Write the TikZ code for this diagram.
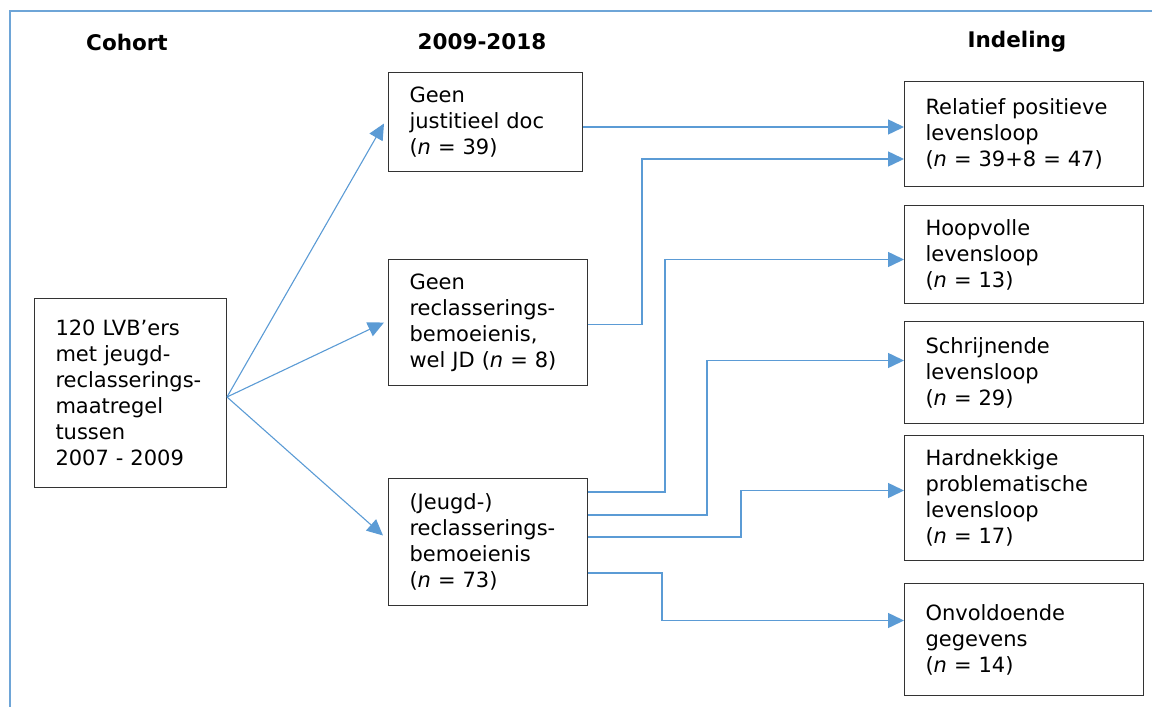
\documentclass[tikz,border=0pt]{standalone}
\usepackage{fontspec}
\setmainfont{DejaVu Sans}
\usepackage{xcolor}
\usepackage{tikz}
\usetikzlibrary{positioning,calc,arrows.meta}

\definecolor{lijnblauw}{RGB}{91,155,213}
\definecolor{kaderblauw}{RGB}{110,165,215}

\tikzset{
    vak/.style={draw=black!80, line width=1pt, rectangle, align=left,
        inner xsep=21pt, inner ysep=0pt, anchor=north west,
        font=\fontsize{21}{26}\selectfont},
    kop/.style={font=\fontsize{21.5}{24}\selectfont\bfseries},
    pijl/.style={draw=lijnblauw, line width=1.5pt,
        -{Triangle[length=16pt,width=15pt]}}
}

\newcommand{\nn}{\textit{n}}

\begin{document}
\begin{tikzpicture}[x=1pt,y=-1pt]
    \useasboundingbox (0,0) rectangle (1152,707);
    % Frame
    \draw [kaderblauw, line width=2pt] (10,707) -- (10,11) -- (1152,11);

    % Headers
    \node [kop] (hcoh) at (127,42) {Cohort};
    \node [kop] (hjaar) at (482,42) {2009-2018};
    \node [kop] (hind) at (1017,42) {Indeling};

    % Cohort
    \node [vak, text width=150pt, minimum height=189pt] (coh) at (34,298)
        {120 LVB’ers\\met jeugd-\\reclasserings-\\maatregel\\tussen\\2007 - 2009};

    % 2009-2018
    \node [vak, text width=152pt, minimum height=99pt] (geen) at (388,72)
        {Geen\\justitieel doc\\(\nn{} = 39)};
    \node [vak, text width=157pt, minimum height=126pt] (wel) at (388,259)
        {Geen\\reclasserings-\\bemoeienis,\\wel JD (\nn{} = 8)};
    \node [vak, text width=157pt, minimum height=127pt] (rec) at (388,478)
        {(Jeugd-)\\reclasserings-\\bemoeienis\\(\nn{} = 73)};

    % Indeling
    \node [vak, text width=197pt, minimum height=105pt] (pos) at (904,81)
        {Relatief positieve\\levensloop\\(\nn{} = 39+8 = 47)};
    \node [vak, text width=197pt, minimum height=98pt] (hoop) at (904,205)
        {Hoopvolle\\levensloop\\(\nn{} = 13)};
    \node [vak, text width=197pt, minimum height=102pt] (schrij) at (904,321)
        {Schrijnende\\levensloop\\(\nn{} = 29)};
    \node [vak, text width=197pt, minimum height=125pt] (hard) at (904,435)
        {Hardnekkige\\problematische\\levensloop\\(\nn{} = 17)};
    \node [vak, text width=197pt, minimum height=112pt] (onv) at (904,583)
        {Onvoldoende\\gegevens\\(\nn{} = 14)};

    % Cohort -> 2009-2018
    \draw [pijl, line width=1.1pt] ([yshift=-4pt]coh.east) -- ([xshift=-4pt,yshift=-1.5pt]geen.west);
    \draw [pijl, line width=1.1pt] ([yshift=-4pt]coh.east) -- ([xshift=-4pt]wel.west);
    \draw [pijl, line width=1.1pt] ([yshift=-4pt]coh.east) -- ([xshift=-5pt,yshift=6.5pt]rec.west);

    % 2009-2018 -> Indeling
    \draw [pijl] ([yshift=-5pt]geen.east) -- ++(158,0) |- ([yshift=7pt]pos.west);
    \draw [pijl] ([yshift=-2pt]wel.east) -- ++(54,0) |- ([yshift=-25pt]pos.west);
    \draw [pijl] ([yshift=-14pt]rec.north east) -- ++(77,0) |- ([yshift=-5pt]hoop.west);
    \draw [pijl] ([yshift=-37pt]rec.north east) -- ++(119,0) |- ([yshift=12pt]schrij.west);
    \draw [pijl] ([yshift=-59pt]rec.north east) -- ++(153,0) |- ([yshift=7.5pt]hard.west);
    \draw [pijl] ([yshift=-95pt]rec.north east) -- ++(74,0) |- ([yshift=19pt]onv.west);
\end{tikzpicture}
\end{document}
